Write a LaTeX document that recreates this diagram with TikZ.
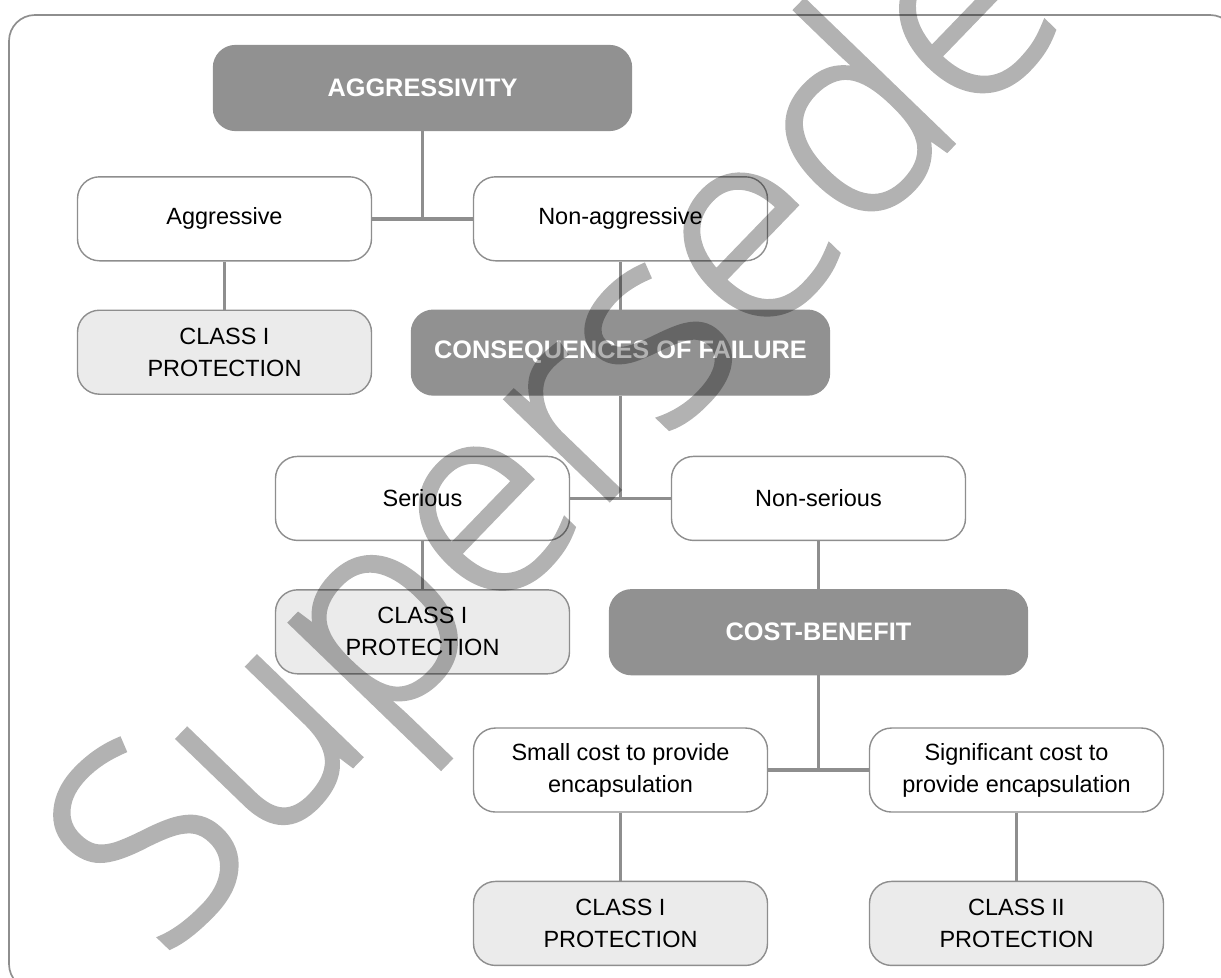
\documentclass[tikz,border=0pt]{standalone}
\usepackage{fontspec}
\setmainfont{Liberation Sans}
\IfFontExistsTF{Open Sans Light}{\newfontfamily\wmfont{Open Sans Light}[BoldFont={Open Sans Light}, BoldFeatures={FakeBold=1.7}]}{\newfontfamily\wmfont{Liberation Sans}}
\usepackage{xcolor}
\usetikzlibrary{positioning}
\definecolor{hdgray}{HTML}{919191}
\definecolor{lngray}{HTML}{8E8E8E}
\definecolor{clgray}{HTML}{EBEBEB}

\begin{document}
\begin{tikzpicture}[
  node distance=1.2cm and 4.95cm,
  b/.style={draw=lngray, line width=1pt, rounded corners=0.55cm, fill=white, minimum width=7.35cm, minimum height=2.1cm, align=center, font=\fontsize{16.7}{22.7}\selectfont},
  c/.style={b, fill=clgray},
  h/.style={b, draw=hdgray, fill=hdgray, text=white, minimum width=10.45cm, minimum height=2.12cm, font=\fontsize{18}{22}\selectfont\bfseries},
  a/.style={draw=lngray, line width=2.6pt},
  w/.style={rotate=46, anchor=base, inner sep=0, text=black, font=\wmfont\fontsize{193}{193}\selectfont\bfseries}
]
  \useasboundingbox (0,0) rectangle (30.525,-24.45);
  \clip (0,0) rectangle (30.525,-24.45);
  \draw[lngray, line width=1.2pt, rounded corners=0.65cm] (0.225,-0.375) rectangle (30.9,-24.75);

  \node[h] (agg) at (10.5625,-2.2) {AGGRESSIVITY};
  \node[b, below=1.125cm of agg, xshift=-4.95cm] (aggr) {Aggressive};
  \node[b, below=1.125cm of agg, xshift=4.95cm] (nonaggr) {Non-aggressive};
  \node[c, below=of aggr] (cls1) {CLASS I\\ PROTECTION};
  \node[h, below=of nonaggr] (cons) {CONSEQUENCES OF FAILURE};
  \node[b, below=1.5cm of cons, xshift=-4.95cm] (ser) {Serious};
  \node[b, below=1.5cm of cons, xshift=4.95cm] (nonser) {Non-serious};
  \node[c, below=of ser] (cls2) {CLASS I\\ PROTECTION};
  \node[h, below=of nonser] (cost) {COST-BENEFIT};
  \node[b, below=1.3cm of cost, xshift=-4.95cm] (small) {Small cost to provide\\ encapsulation};
  \node[b, below=1.3cm of cost, xshift=4.95cm] (signif) {Significant cost to\\ provide encapsulation};
  \node[c, below=1.7cm of small] (cls3) {CLASS I\\ PROTECTION};
  \node[c, below=1.7cm of signif] (cls4) {CLASS II\\ PROTECTION};

  \draw[a] (aggr.east) -- (nonaggr.west);
  \draw[a] (agg.south) -- (agg.south |- aggr.east);
  \draw[a] (aggr) -- (cls1);
  \draw[a] (nonaggr) -- (cons);
  \draw[a] (ser.east) -- (nonser.west);
  \draw[a] (cons.south) -- (cons.south |- ser.east);
  \draw[a] (ser) -- (cls2);
  \draw[a] (nonser) -- (cost);
  \draw[a] (small.east) -- (signif.west);
  \draw[a] (cost.south) -- (cost.south |- small.east);
  \draw[a] (small) -- (cls3);
  \draw[a] (signif) -- (cls4);

  % watermark
  \begin{scope}[transparency group, opacity=0.3]
    \node[w] (wm) at (16.86,-10.81) {Superseded};
  \end{scope}
\end{tikzpicture}
\end{document}
